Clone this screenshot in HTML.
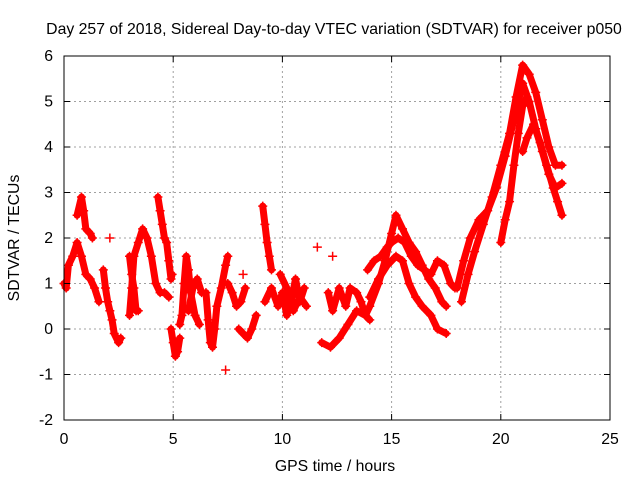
<!DOCTYPE html>
<html><head><meta charset="utf-8"><style>
body{margin:0;background:#fff}
svg text{font-family:"Liberation Sans",sans-serif;font-size:15.8px;fill:#000}
</style></head><body>
<svg id="chart" width="640" height="480" xmlns="http://www.w3.org/2000/svg">
<rect width="640" height="480" fill="#fff"/>
<text x="334" y="34" text-anchor="middle">Day 257 of 2018, Sidereal Day-to-day VTEC variation (SDTVAR) for receiver p050</text>
<text x="335" y="471" text-anchor="middle">GPS time / hours</text>
<text transform="translate(19,238) rotate(-90)" text-anchor="middle">SDTVAR / TECUs</text>
<g id="grid"></g>
<g id="marks"></g>
<rect x="64" y="56" width="546" height="364" fill="none" stroke="#000" stroke-width="1"/>
<g id="ticks"></g>
</svg>
<script>
const xTicks=[0,5,10,15,20,25];
const yTicks=[-2,-1,0,1,2,3,4,5,6];
const trackHours=[
[0,0.1,0.2,0.4,0.6,0.8,1.0,1.2,1.4,1.6],
[0.6,0.8,0.9,1.0,1.2,1.3],
[1.8,1.9,2.0,2.1,2.2,2.3,2.5,2.6],
[3.0,3.1,3.2,3.4,3.6,3.8,4.0,4.2,4.4,4.6,4.8],
[3.0,3.1,3.2,3.3,3.4],
[4.3,4.4,4.5,4.6,4.7,4.8,4.9,4.95],
[4.9,5.0,5.1,5.2,5.3],
[5.3,5.4,5.5,5.6,5.7,5.8,6.0,6.2],
[5.7,5.9,6.1,6.3],
[6.5,6.6,6.7,6.8,6.9,7.0,7.2,7.4,7.5],
[7.5,7.7,7.9,8.1,8.3],
[8.0,8.2,8.4,8.6,8.8],
[9.1,9.2,9.3,9.4,9.5],
[9.2,9.5,9.8,10.0,10.2,10.4,10.6,10.8,11.0],
[9.9,10.2,10.5,10.8,11.1],
[11.8,12.2,12.6,13.0,13.4,13.8,14.0,14.4,14.7,15.0,15.2,15.5,15.8,16.1,16.4,16.7,17.0,17.3,17.5],
[13.9,14.2,14.5,14.8,15.0,15.3,15.6,15.9,16.2,16.5,16.8,17.1,17.4,17.7,17.9],
[14.0,14.4,14.8,15.2,15.5,15.8,16.1,16.4,16.8,17.1,17.5],
[12.1,12.3,12.6,12.9,13.1,13.4,13.6,13.8,14.0],
[18.0,18.3,18.6,19.0,19.4,19.8,20.2,20.6,21.0,21.3,21.6,21.9,22.2,22.5,22.8],
[18.2,18.5,18.8,19.2,19.6,20.0,20.4,20.7,21.0,21.3,21.6,21.9,22.2,22.5,22.8],
[20.0,20.2,20.4,20.6,20.8,21.0,21.2],
[21.0,21.2,21.5,21.8,22.1,22.4,22.6,22.8],
[2.1,7.4,8.2,11.6,12.3]
];
const trackValues=[
[1.0,0.9,1.4,1.6,1.9,1.6,1.2,1.1,0.9,0.6],
[2.5,2.9,2.6,2.2,2.1,2.0],
[1.3,0.9,0.6,0.4,0.2,-0.1,-0.3,-0.2],
[0.3,0.9,1.6,1.9,2.2,2.0,1.6,1.0,0.8,0.8,0.7],
[1.6,1.2,0.9,0.4,0.4],
[2.9,2.6,2.3,2.0,1.9,1.5,1.1,1.2],
[0.0,-0.3,-0.6,-0.5,-0.2],
[0.1,0.3,1.0,1.6,1.3,0.8,0.3,0.1],
[0.4,0.9,1.1,0.8],
[0.8,0.2,-0.3,-0.4,0.0,0.5,0.9,1.4,1.6],
[1.0,0.8,0.5,0.6,0.9],
[0.0,-0.1,-0.2,0.0,0.3],
[2.7,2.3,1.9,1.6,1.3],
[0.6,0.9,0.5,0.8,0.3,0.6,1.1,0.6,0.9],
[1.2,0.9,0.4,0.7,0.5],
[-0.3,-0.4,-0.2,0.1,0.4,0.3,0.5,1.0,1.5,2.1,2.5,2.2,1.9,1.7,1.4,1.1,0.9,0.6,0.5],
[1.3,1.5,1.6,1.8,1.9,2.0,1.9,1.6,1.4,1.3,1.2,1.5,1.4,1.0,0.9],
[0.7,1.1,1.4,1.6,1.5,1.0,0.7,0.5,0.3,0.0,-0.1],
[0.8,0.4,0.9,0.5,0.9,0.8,0.6,0.3,0.2],
[0.9,1.5,2.0,2.4,2.6,3.1,3.8,4.6,5.4,5.0,4.4,3.9,3.4,3.1,3.2],
[0.6,1.2,1.7,2.3,2.9,3.6,4.3,5.1,5.8,5.6,5.2,4.6,4.0,3.6,3.6],
[1.9,2.4,2.8,3.6,4.3,4.9,5.1],
[3.9,4.2,4.5,4.1,3.6,3.1,2.8,2.5],
[2.0,-0.9,1.2,1.8,1.6]
];
const NS='http://www.w3.org/2000/svg';
const X0=64,X1=610,Y0=420,Y1=56,xmin=0,xmax=25,ymin=-2,ymax=6;
function sx(v){return X0+(v-xmin)/(xmax-xmin)*(X1-X0);}
function sy(v){return Y0-(v-ymin)/(ymax-ymin)*(Y0-Y1);}
const grid=document.getElementById('grid'),ticks=document.getElementById('ticks'),marks=document.getElementById('marks');
function mk(tag,parent,attrs){const e=document.createElementNS(NS,tag);for(const k in attrs)e.setAttribute(k,attrs[k]);parent.appendChild(e);return e;}
xTicks.forEach(t=>{
 const x=sx(t);
 if(t>xmin&&t<xmax){const g=mk('line',grid,{x1:x,x2:x,y1:Y1,y2:Y0,stroke:'#a0a0a0','stroke-dasharray':'2,3'});
 
 }
 const l=mk('line',ticks,{x1:x,x2:x,y1:Y0,y2:Y0-6,stroke:'#000'});
 
 
 mk('line',ticks,{x1:x,x2:x,y1:Y1,y2:Y1+6,stroke:'#000'});
 const tx=mk('text',ticks,{x:x,y:444,'text-anchor':'middle'});tx.textContent=t;
 
 
});
yTicks.forEach(t=>{
 const y=sy(t);
 if(t>ymin&&t<ymax){const g=mk('line',grid,{x1:X0,x2:X1,y1:y,y2:y,stroke:'#a0a0a0','stroke-dasharray':'2,3'});
 
 }
 const l=mk('line',ticks,{x1:X0,x2:X0+6,y1:y,y2:y,stroke:'#000'});
 
 
 mk('line',ticks,{x1:X1,x2:X1-6,y1:y,y2:y,stroke:'#000'});
 const tx=mk('text',ticks,{x:53,y:y+5,'text-anchor':'end'});tx.textContent=t;
 
 
});
trackHours.forEach((hs,i)=>{
 const vs=trackValues[i];
 const isolated=(i===trackHours.length-1);
 if(!isolated){
  const pts=hs.map((h,j)=>sx(h)+','+sy(vs[j])).join(' ');
  const p=mk('polyline',marks,{points:pts,fill:'none',stroke:'#ff0000','stroke-width':7,'stroke-linejoin':'round','stroke-linecap':'round'});
  
  
 }
 hs.forEach((h,j)=>{
  const x=sx(h),y=sy(vs[j]);
  const m=mk('path',marks,{d:`M${x-4.5},${y}H${x+4.5}M${x},${y-4.5}V${y+4.5}`,stroke:'#ff0000','stroke-width':1.5});
  
  
 });
});
</script>
</body></html>
